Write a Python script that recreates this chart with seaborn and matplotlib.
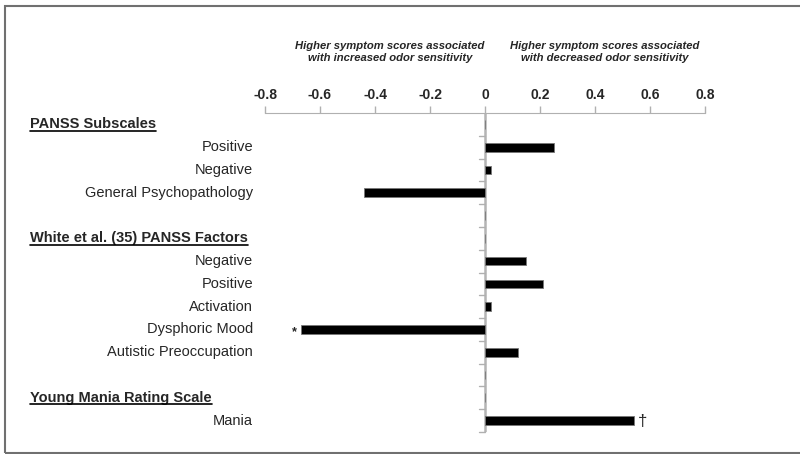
import matplotlib
matplotlib.use("Agg")
import matplotlib.pyplot as plt
import seaborn as sns
import pandas as pd
from matplotlib.patches import Rectangle

# rows from top to bottom; headers and spacer rows carry no value
rows = ["PANSS Subscales", "Positive", "Negative", "General Psychopathology", "",
        "White et al. (35) PANSS Factors", "Negative ", "Positive ", "Activation",
        "Dysphoric Mood", "Autistic Preoccupation", " ", "Young Mania Rating Scale", "Mania"]
headers = ["PANSS Subscales", "White et al. (35) PANSS Factors", "Young Mania Rating Scale"]
values = [0, 0.25, 0.02, -0.44, 0, 0, 0.15, 0.21, 0.02, -0.67, 0.12, 0, 0, 0.54]
marks = {"Dysphoric Mood": "*", "Mania": "\u2020"}
xticks = [-0.8, -0.6, -0.4, -0.2, 0, 0.2, 0.4, 0.6, 0.8]
notes = ["Higher symptom scores associated\nwith increased odor sensitivity",
         "Higher symptom scores associated\nwith decreased odor sensitivity"]

df = pd.DataFrame({"row": rows, "value": values})

sns.set_style("white")
plt.rcParams["font.family"] = ["Liberation Sans", "DejaVu Sans"]

fig = plt.figure(figsize=(8, 4.54), dpi=100)
ax = fig.add_axes([265 / 800, (454 - 432) / 454, 440 / 800, 319 / 454])

sns.barplot(data=df, x="value", y="row", order=rows, color="black",
            width=0.38, orient="h", ax=ax, saturation=1)
for p in ax.patches:
    p.set_edgecolor("#777777")
    p.set_linewidth(0.6)
    p.set_zorder(3)

ax.set_xlim(-0.8, 0.8)
ax.set_ylim(len(rows) - 0.5, -0.5)
ax.set_xlabel("")
ax.set_ylabel("")

# x axis on top
ax.xaxis.tick_top()
ax.set_xticks(xticks)
ax.set_xticklabels(["0" if t == 0 else f"{t:.1f}" for t in xticks],
                   fontsize=10, fontweight="bold")
ax.tick_params(axis="x", direction="out", length=5, color="#b0b0b0", width=1, pad=3)

for s in ["bottom", "right", "left"]:
    ax.spines[s].set_visible(False)
ax.spines["top"].set_color("#b0b0b0")

# vertical axis at zero with ticks between rows
ax.axvline(0, color="#b4b4b4", lw=1.8, zorder=2)
ax.set_yticks(range(len(rows)))
ax.set_yticklabels([])
ax.tick_params(axis="y", length=0)
for b in range(1, len(rows) + 1):
    ax.plot([-0.022, 0], [b - 0.5, b - 0.5], color="#b0b0b0", lw=1, clip_on=False, zorder=2)

# row labels
blend = matplotlib.transforms.blended_transform_factory(fig.transFigure, ax.transData)
for i, r in enumerate(rows):
    if r in headers:
        t = ax.text(30 / 800, i, r, fontsize=10.5, fontweight="bold",
                    ha="left", va="center", transform=blend)
        fig.canvas.draw()
        bb = t.get_window_extent()
        fig.add_artist(plt.Line2D([bb.x0 / 800, bb.x1 / 800],
                                  [(bb.y0 + 0.5) / 454, (bb.y0 + 0.5) / 454],
                                  color="black", lw=1.2, transform=fig.transFigure))
    elif r.strip():
        ax.text(-0.8 - 12 / 275, i, r.strip(), fontsize=10.5, ha="right", va="center")

# significance marks
for i, r in enumerate(rows):
    if r in marks:
        v = values[i]
        ax.text(v + (0.015 if v > 0 else -0.015), i + (0.05 if v > 0 else 0.1), marks[r],
                ha="left" if v > 0 else "right", va="center",
                fontsize=12 if v > 0 else 9, fontweight="bold" if v < 0 else "normal")

# notes above the axis
fig.text(390 / 800, 1 - 52 / 454, notes[0], ha="center", va="center", fontsize=8.1,
         fontweight="bold", style="italic", linespacing=1.2)
fig.text(605 / 800, 1 - 52 / 454, notes[1], ha="center", va="center", fontsize=8.1,
         fontweight="bold", style="italic", linespacing=1.2)

# outer frame
fig.add_artist(Rectangle((5 / 800, 1.5 / 454), 800 / 800, 447 / 454, fill=False,
                         edgecolor="#707070", lw=1.5, transform=fig.transFigure))

fig.savefig("out.png", dpi=100)
